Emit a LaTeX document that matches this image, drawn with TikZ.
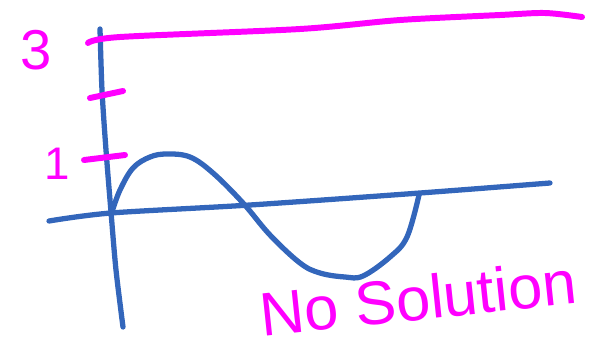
\documentclass[tikz,border=0pt]{standalone}
\usepackage{fontspec}
\setmainfont{Liberation Sans}
\usepackage{xcolor}
\usepackage{tikz}
\definecolor{inkblue}{HTML}{3366BB}
\definecolor{inkpink}{HTML}{FF00FF}

\begin{document}
\begin{tikzpicture}[x=0.02cm, y=-0.02cm,
    bleu/.style={inkblue, line width=3pt, line cap=round, line join=round},
    rose/.style={inkpink, line width=3.4pt, line cap=round},
    chiffre/.style={inkpink, inner sep=0pt, font=\fontsize{32}{38}\selectfont}]
    \useasboundingbox (0,0) rectangle (589,349);

    % Axes tracés à la main
    \draw[bleu] plot[smooth] coordinates {(100,29) (102,90) (106,150) (111,212) (116,270) (123,327)};
    \draw[bleu] plot[smooth] coordinates {(49,221) (111,213) (250,205) (420,193) (550,183)};

    % Courbe (une période)
    \draw[bleu] plot[smooth, tension=0.6] coordinates {(112,212) (120,190) (133,168) (150,157) (167,154)
        (190,157) (213,173) (243,203) (270,235) (300,263) (320,273) (345,277) (363,276)
        (390,257) (407,237) (419,195)};

    % Niveau 3
    \draw[rose] plot[smooth] coordinates {(88,43) (120,37) (300,29) (400,20) (500,15) (545,13) (582,17)};

    % Graduations
    \draw[rose] (90,98) -- (123,91);
    \draw[rose] (84,160) -- (125,155);
    \node[chiffre] (trois) at (36,50) {3};
    \node[chiffre, font=\fontsize{26}{30}\selectfont] (un) at (57,164) {1};

    % Conclusion
    \node[chiffre, rotate=6, font=\fontsize{35}{40}\selectfont] (conclusion) at (418,298) {No Solution};
\end{tikzpicture}
\end{document}
